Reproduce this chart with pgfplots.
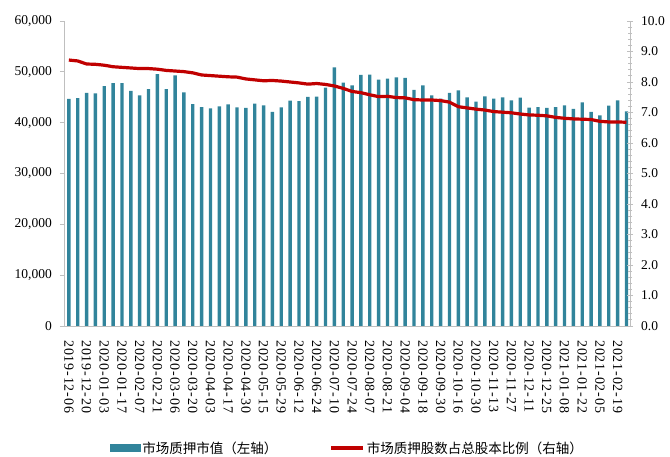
\documentclass[border=0pt]{standalone}
\usepackage{pgfplots}
\pgfplotsset{compat=1.18}
\usepackage{pgfplotstable}
\usepackage{fontspec}
\setmainfont{Liberation Serif}
\newfontfamily\cjk{Noto Sans CJK SC}
\newfontfamily\datefont[LetterSpace=6]{Liberation Serif}
\definecolor{barc}{HTML}{31849B}
\definecolor{linec}{HTML}{C00000}
\definecolor{axc}{HTML}{BFBFBF}

\pgfplotstableread{
x v r
0 44660 8.72
1 44850 8.69
2 45840 8.59
3 45770 8.58
4 47210 8.55
5 47800 8.50
6 47800 8.48
7 46230 8.46
8 45380 8.44
9 46620 8.44
10 49570 8.42
11 46620 8.38
12 49310 8.36
13 45970 8.34
14 43670 8.30
15 43080 8.23
16 42820 8.21
17 43210 8.19
18 43610 8.17
19 43020 8.16
20 42890 8.10
21 43740 8.07
22 43410 8.04
23 42100 8.05
24 43020 8.03
25 44330 8.00
26 44260 7.97
27 45050 7.93
28 45110 7.95
29 46890 7.92
30 50890 7.87
31 47870 7.79
32 47340 7.69
33 49380 7.65
34 49440 7.58
35 48460 7.52
36 48660 7.53
37 48920 7.49
38 48790 7.48
39 46430 7.42
40 47340 7.41
41 45380 7.41
42 44720 7.39
43 45840 7.34
44 46360 7.19
45 44980 7.15
46 44130 7.11
47 45180 7.08
48 44720 7.03
49 44980 7.01
50 44390 6.99
51 44920 6.95
52 42950 6.92
53 43080 6.91
54 42890 6.89
55 43080 6.84
56 43410 6.81
57 42690 6.79
58 44000 6.78
59 42100 6.77
60 41440 6.71
61 43340 6.69
62 44390 6.69
63 42230 6.68
}\data

\begin{document}
\begin{tikzpicture}
\begin{axis}[
  at={(0pt,0pt)}, anchor=south west,
  scale only axis, width=566pt, height=305pt,
  xmin=-0.55, xmax=63.4, ymin=0, ymax=60000,
  scaled y ticks=false,
  axis x line*=bottom, axis y line*=left,
  axis line style={axc, line width=0.8pt},
  xtick={0,2,...,62},
  xticklabels={2019-12-06,2019-12-20,2020-01-03,2020-01-17,2020-02-07,2020-02-21,2020-03-06,2020-03-20,2020-04-03,2020-04-17,2020-04-30,2020-05-15,2020-05-29,2020-06-12,2020-06-24,2020-07-10,2020-07-24,2020-08-07,2020-08-21,2020-09-04,2020-09-18,2020-09-30,2020-10-16,2020-10-30,2020-11-13,2020-11-27,2020-12-11,2020-12-25,2021-01-08,2021-01-22,2021-02-05,2021-02-19},
  x tick style={draw=none},
  xticklabel style={rotate=-90, anchor=west, inner sep=0pt, font=\datefont\fontsize{14}{16}\selectfont},
  xticklabel shift=10pt,
  ytick={0,10000,20000,30000,40000,50000,60000},
  yticklabels={0,{10,000},{20,000},{30,000},{40,000},{50,000},{60,000}},
  y tick style={axc, line width=0.8pt},
  tick align=outside, major tick length=4pt,
  yticklabel style={font=\fontsize{13.5}{15}\selectfont, inner sep=0pt},
  yticklabel shift=8pt,
]
\addplot[ybar, bar width=3.4pt, fill=barc, draw=none] table[x=x, y=v]{\data};
\end{axis}
\begin{axis}[
  at={(0pt,0pt)}, anchor=south west,
  scale only axis, width=566pt, height=305pt,
  xmin=-0.55, xmax=63.4, ymin=0, ymax=10,
  axis x line=none, axis y line*=right,
  axis line style={axc, line width=0.8pt},
  ytick={0,1,...,10},
  yticklabels={0.0,1.0,2.0,3.0,4.0,5.0,6.0,7.0,8.0,9.0,10.0},
  minor y tick num=4,
  y tick style={axc, line width=0.8pt},
  tick align=center, major tick length=6pt, minor tick length=4pt,
  yticklabel style={font=\fontsize{13.5}{15}\selectfont, inner sep=0pt},
  yticklabel shift=8pt,
  legend columns=2,
  legend style={at={(0.081,-0.40)}, anchor=west, draw=none, fill=none, inner sep=0pt,
    font=\cjk\fontsize{13.5}{15}\selectfont,
    /tikz/every even column/.append style={column sep=50pt}},
  legend cell align=left,
]
\addlegendimage{legend image code/.code={\fill[barc] (0pt,-3.5pt) rectangle (30pt,3.5pt);}}
\addlegendentry{市场质押市值（左轴）}
\addplot[linec, line width=3.2pt, line join=round,
  legend image code/.code={\draw[linec, line width=3.5pt] (0pt,0pt) -- (32pt,0pt);}]
  table[x=x, y=r]{\data};
\addlegendentry{市场质押股数占总股本比例（右轴）}
\end{axis}
\pgfresetboundingbox
\path (-64pt,-131pt) rectangle (606pt,326pt);
\end{tikzpicture}
\end{document}
